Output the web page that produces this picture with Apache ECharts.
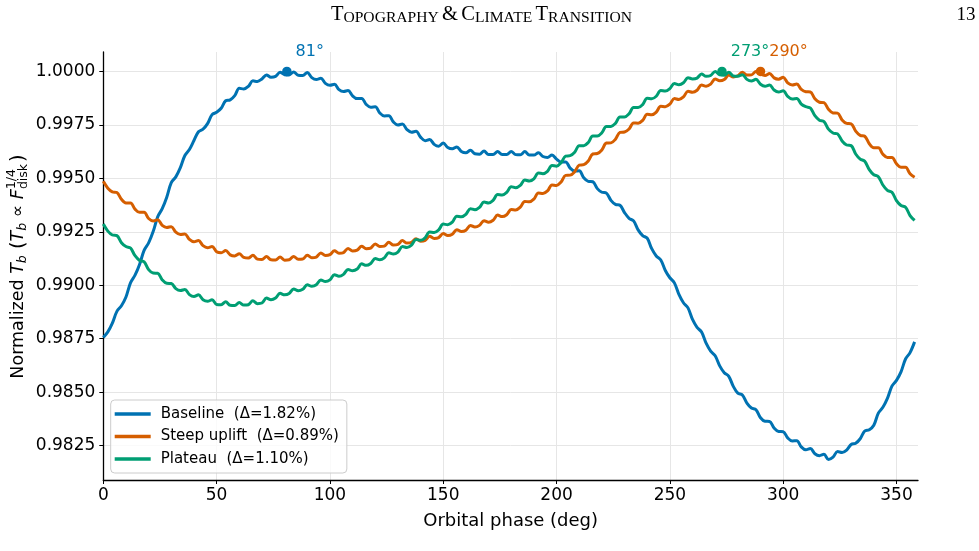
<!DOCTYPE html>
<html><head><meta charset="utf-8">
<script src="https://cdn.jsdelivr.net/npm/echarts@6/dist/echarts.min.js"></script>
<style>html,body{margin:0;padding:0;background:#fff}#c{width:979px;height:551px}</style>
</head><body><div id="c"></div>
<script>
// ---------------- data ----------------
const phases = Array.from({length: 180}, (_, i) => i * 2); // orbital phase grid (deg)
const baseline = [
0.98756,0.98782,0.98823,0.98878,0.98904,0.98945,0.99011,0.99047,0.99097,0.99163,
0.99198,0.99251,0.99320,0.99358,0.99412,0.99480,0.99507,0.99550,0.99607,0.99635,
0.99677,0.99718,0.99730,0.99756,0.99798,0.99809,0.99828,0.99863,0.99867,0.99887,
0.99921,0.99918,0.99930,0.99956,0.99953,0.99965,0.99984,0.99973,0.99977,0.99996,
0.99985,0.99984,0.99998,0.99982,0.99981,0.99995,0.99971,0.99962,0.99968,0.99944,
0.99935,0.99940,0.99915,0.99906,0.99911,0.99886,0.99873,0.99874,0.99846,0.99833,
0.99835,0.99806,0.99792,0.99793,0.99764,0.99750,0.99754,0.99728,0.99716,0.99720,
0.99693,0.99676,0.99682,0.99659,0.99650,0.99665,0.99644,0.99638,0.99647,0.99626,
0.99620,0.99631,0.99615,0.99613,0.99628,0.99611,0.99611,0.99626,0.99611,0.99611,
0.99626,0.99611,0.99610,0.99625,0.99609,0.99609,0.99620,0.99602,0.99598,0.99609,
0.99590,0.99576,0.99577,0.99548,0.99534,0.99535,0.99503,0.99486,0.99484,0.99452,
0.99435,0.99431,0.99397,0.99378,0.99374,0.99340,0.99313,0.99301,0.99259,0.99232,
0.99220,0.99171,0.99137,0.99118,0.99069,0.99035,0.99011,0.98957,0.98918,0.98894,
0.98840,0.98803,0.98781,0.98729,0.98692,0.98670,0.98623,0.98591,0.98574,0.98527,
0.98495,0.98487,0.98449,0.98426,0.98418,0.98380,0.98364,0.98363,0.98332,0.98316,
0.98315,0.98286,0.98272,0.98273,0.98244,0.98230,0.98236,0.98212,0.98203,0.98209,
0.98185,0.98196,0.98222,0.98218,0.98229,0.98255,0.98261,0.98282,0.98318,0.98324,
0.98345,0.98402,0.98429,0.98471,0.98528,0.98555,0.98595,0.98655,0.98685,0.98735
];
const steepUplift = [
0.99486,0.99454,0.99437,0.99434,0.99402,0.99385,0.99385,0.99356,0.99341,0.99342,
0.99312,0.99301,0.99306,0.99280,0.99270,0.99274,0.99248,0.99237,0.99240,0.99214,
0.99203,0.99209,0.99185,0.99175,0.99181,0.99157,0.99152,0.99162,0.99142,0.99137,
0.99147,0.99130,0.99127,0.99140,0.99122,0.99120,0.99134,0.99119,0.99118,0.99132,
0.99117,0.99119,0.99135,0.99122,0.99123,0.99140,0.99129,0.99132,0.99151,0.99139,
0.99143,0.99161,0.99150,0.99153,0.99172,0.99160,0.99164,0.99182,0.99171,0.99174,
0.99193,0.99181,0.99183,0.99201,0.99188,0.99191,0.99209,0.99197,0.99200,0.99218,
0.99206,0.99210,0.99229,0.99219,0.99223,0.99242,0.99233,0.99239,0.99260,0.99251,
0.99257,0.99280,0.99272,0.99280,0.99302,0.99295,0.99304,0.99328,0.99321,0.99330,
0.99354,0.99352,0.99365,0.99392,0.99390,0.99403,0.99431,0.99429,0.99441,0.99469,
0.99467,0.99483,0.99514,0.99515,0.99531,0.99562,0.99564,0.99581,0.99614,0.99616,
0.99633,0.99665,0.99666,0.99683,0.99715,0.99717,0.99731,0.99759,0.99758,0.99771,
0.99800,0.99797,0.99810,0.99837,0.99835,0.99847,0.99873,0.99869,0.99881,0.99907,
0.99903,0.99912,0.99937,0.99931,0.99941,0.99965,0.99956,0.99962,0.99983,0.99974,
0.99980,0.99996,0.99983,0.99984,1.00000,0.99987,0.99981,0.99990,0.99970,0.99964,
0.99973,0.99947,0.99937,0.99941,0.99916,0.99905,0.99904,0.99872,0.99856,0.99854,
0.99823,0.99806,0.99805,0.99773,0.99757,0.99755,0.99721,0.99701,0.99697,0.99662,
0.99643,0.99643,0.99613,0.99598,0.99598,0.99568,0.99552,0.99552,0.99521,0.99505
];
const plateau = [
0.99286,0.99253,0.99235,0.99232,0.99199,0.99181,0.99174,0.99138,0.99116,0.99110,
0.99073,0.99057,0.99056,0.99025,0.99009,0.99008,0.98984,0.98975,0.98980,0.98956,
0.98947,0.98955,0.98932,0.98925,0.98932,0.98910,0.98909,0.98923,0.98906,0.98905,
0.98919,0.98907,0.98909,0.98927,0.98914,0.98917,0.98940,0.98932,0.98940,0.98962,
0.98955,0.98961,0.98983,0.98974,0.98981,0.99002,0.98995,0.99002,0.99025,0.99017,
0.99025,0.99049,0.99042,0.99051,0.99074,0.99068,0.99076,0.99100,0.99093,0.99102,
0.99125,0.99119,0.99128,0.99152,0.99146,0.99155,0.99181,0.99177,0.99188,0.99214,
0.99210,0.99222,0.99249,0.99247,0.99259,0.99286,0.99283,0.99295,0.99323,0.99320,
0.99332,0.99358,0.99353,0.99364,0.99389,0.99385,0.99397,0.99424,0.99422,0.99434,
0.99461,0.99456,0.99467,0.99492,0.99488,0.99498,0.99525,0.99522,0.99533,0.99560,
0.99557,0.99573,0.99604,0.99606,0.99622,0.99653,0.99653,0.99668,0.99698,0.99698,
0.99713,0.99743,0.99743,0.99757,0.99787,0.99787,0.99802,0.99831,0.99831,0.99845,
0.99875,0.99872,0.99884,0.99911,0.99908,0.99920,0.99944,0.99938,0.99947,0.99971,
0.99965,0.99969,0.99988,0.99977,0.99981,1.00000,0.99984,0.99982,0.99996,0.99979,
0.99978,0.99985,0.99963,0.99955,0.99963,0.99940,0.99931,0.99937,0.99913,0.99904,
0.99910,0.99883,0.99871,0.99874,0.99847,0.99835,0.99829,0.99793,0.99772,0.99766,
0.99730,0.99712,0.99708,0.99675,0.99656,0.99653,0.99614,0.99590,0.99580,0.99541,
0.99517,0.99508,0.99469,0.99444,0.99435,0.99396,0.99373,0.99365,0.99326,0.99303
];
const seriesNames = ['Baseline  (\u0394=1.82%)', 'Steep uplift  (\u0394=0.89%)', 'Plateau  (\u0394=1.10%)'];
const peakPhases = [81, 290, 273];
const peakValues = [1.0000, 1.0000, 1.0000];
const peakLabels = ['81\u00b0', '290\u00b0', '273\u00b0'];
const xTicks = [0, 50, 100, 150, 200, 250, 300, 350];
const yTicks = [0.9825, 0.9850, 0.9875, 0.9900, 0.9925, 0.9950, 0.9975, 1.0000];

// ---------------- styling ----------------
const colors = ['#0072B2', '#D55E00', '#009E73'];
const FONT = 'DejaVu Sans';
const GL = 103.3, GR = 918, GT = 52, GB = 480;

const chart = echarts.init(document.getElementById('c'), null, {renderer: 'canvas'});

function tw(text, font) {
  const c = document.createElement('canvas').getContext('2d');
  c.font = font; return c.measureText(text).width;
}

// y-axis label pieces (mathtext-like)
const MS = 17.5, SS = 12.5;
const pieces = [
  {t: 'Normalized ', s: MS, it: false, dy: 0},
  {t: 'T', s: MS, it: true, dy: 0},
  {t: 'b', s: SS, it: true, dy: 4.5},
  {t: ' (', s: MS + 2, it: false, dy: 0},
  {t: 'T', s: MS, it: true, dy: 0},
  {t: 'b', s: SS, it: true, dy: 4.5},
  {t: ' \u221d ', s: MS, it: false, dy: 0},
  {t: 'F', s: MS, it: true, dy: 0},
  {stack: [{t: '1/4', s: SS, it: false, dy: -7}, {t: 'disk', s: SS, it: false, dy: 5.5}]},
  {t: ')', s: MS + 2, it: false, dy: 0}
];
const fontOf = p => (p.it ? 'italic ' : '') + p.s + 'px "' + FONT + '"';
let cx = 0; const items = [];
pieces.forEach(p => {
  if (p.stack) {
    let w = 0;
    p.stack.forEach(q => { items.push({q, x: cx}); w = Math.max(w, tw(q.t, fontOf(q))); });
    cx += w + 2;
  } else {
    items.push({q: p, x: cx}); cx += tw(p.t, fontOf(p));
  }
});
const W = cx;
const ylabelChildren = items.map(({q, x}) => ({
  type: 'text', x: x - W / 2, y: q.dy,
  style: {text: q.t, font: fontOf(q), fill: '#000', align: 'left', verticalAlign: 'middle'}
}));

const axisCommon = {
  axisLine: {show: true, onZero: false, lineStyle: {color: '#000', width: 1.3}},
  splitLine: {show: true, lineStyle: {color: '#e6e6e6', width: 1}}
};

const option = {
  animation: false,
  backgroundColor: '#ffffff',
  grid: {left: GL, right: 979 - GR, top: GT, bottom: 551 - GB, containLabel: false},
  xAxis: Object.assign({
    type: 'value', min: 0, max: 359.5,
    axisTick: {show: true, customValues: xTicks, length: 4, lineStyle: {color: '#000', width: 1}},
    axisLabel: {customValues: xTicks, fontFamily: FONT, fontSize: 17, color: '#000', margin: 7},
    name: 'Orbital phase (deg)', nameLocation: 'middle', nameGap: 32,
    nameTextStyle: {fontFamily: FONT, fontSize: 18, color: '#000'}
  }, axisCommon),
  yAxis: Object.assign({
    type: 'value', min: 0.98089, max: 1.00091,
    axisTick: {show: true, customValues: yTicks, length: 4, lineStyle: {color: '#000', width: 1}},
    axisLabel: {customValues: yTicks, fontFamily: FONT, fontSize: 17, color: '#000', margin: 8,
      formatter: v => v.toFixed(4)}
  }, axisCommon),
  legend: {
    data: seriesNames, orient: 'vertical', left: 110.7, top: 400,
    icon: 'rect', itemWidth: 36, itemHeight: 3.5, itemGap: 4.5,
    textStyle: {fontFamily: FONT, fontSize: 15, color: '#000', lineHeight: 18, padding: [0, 0, 0, 5]},
    backgroundColor: 'rgba(255,255,255,0.8)', borderColor: '#cccccc', borderWidth: 1, borderRadius: 4,
    padding: [5, 8, 5, 4]
  },
  graphic: [
    {type: 'group', x: 18.5, y: 266.5, rotation: Math.PI / 2, children: ylabelChildren},
    {type: 'text', x: 481.5, y: 15, style: {
      text: '{a|T}{b|OPOGRAPHY} {a|&} {a|C}{b|LIMATE} {a|T}{b|RANSITION}',
      align: 'center', verticalAlign: 'middle',
      rich: {
        a: {fontFamily: 'Liberation Serif', fontSize: 20.5, lineHeight: 21, verticalAlign: 'bottom', fill: '#000'},
        b: {fontFamily: 'Liberation Serif', fontSize: 15.6, lineHeight: 21, verticalAlign: 'bottom', fill: '#000'}
      }}},
    {type: 'text', x: 966, y: 15, style: {text: '13', font: '19px "Liberation Serif"', fill: '#000', align: 'center', verticalAlign: 'middle'}}
  ],
  series: [
    {name: seriesNames[0], type: 'line', data: phases.map((p, i) => [p, baseline[i]]),
     showSymbol: false, symbol: 'none', smooth: 0.35, lineStyle: {width: 3, color: colors[0]}, itemStyle: {color: colors[0]}, z: 2},
    {name: seriesNames[1], type: 'line', data: phases.map((p, i) => [p, steepUplift[i]]),
     showSymbol: false, symbol: 'none', smooth: 0.35, lineStyle: {width: 3, color: colors[1]}, itemStyle: {color: colors[1]}, z: 3},
    {name: seriesNames[2], type: 'line', data: phases.map((p, i) => [p, plateau[i]]),
     showSymbol: false, symbol: 'none', smooth: 0.35, lineStyle: {width: 3, color: colors[2]}, itemStyle: {color: colors[2]}, z: 4},
    {name: 'peaks', type: 'scatter', symbolSize: 9.5, z: 6, clip: false,
     data: peakPhases.map((p, i) => ({
       value: [p, peakValues[i]], itemStyle: {color: colors[i], opacity: 1},
       label: {show: true, formatter: peakLabels[i], position: [13.5, -14.5], align: 'left', verticalAlign: 'middle',
         fontFamily: FONT, fontSize: 16, color: colors[i], opacity: 1}
     }))}
  ]
};
chart.setOption(option);
</script>
</body></html>
